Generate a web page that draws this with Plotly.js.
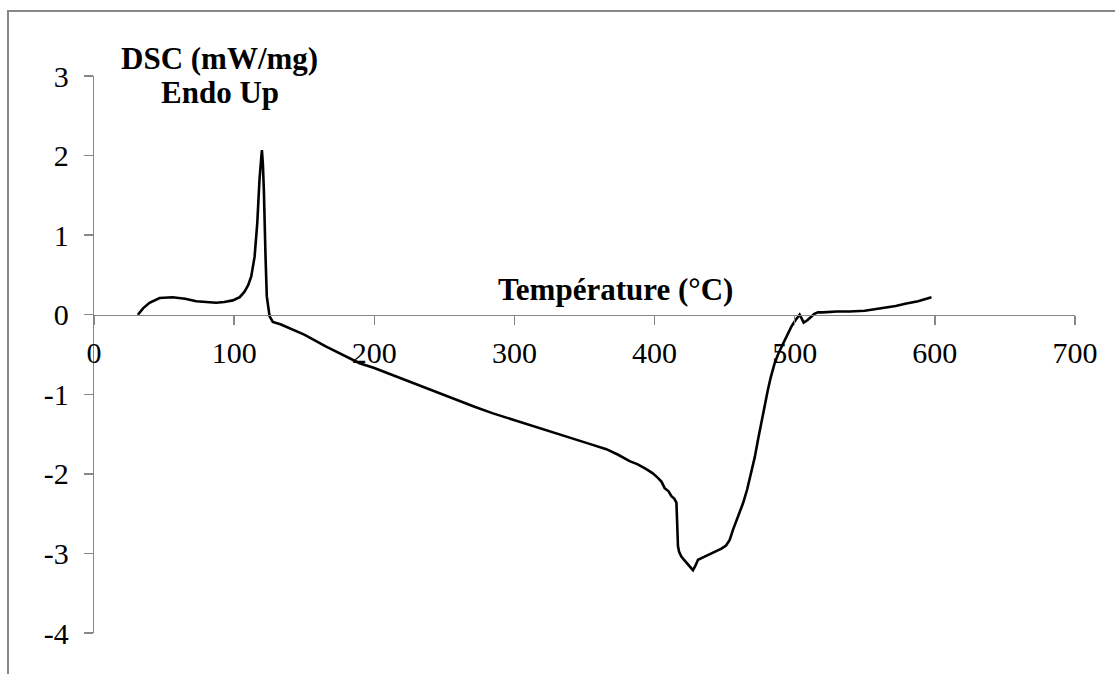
<!DOCTYPE html>
<html>
<head>
<meta charset="utf-8">
<script src="https://cdn.plot.ly/plotly-3.0.1.min.js"></script>
<style>
  html, body { margin:0; padding:0; background:#fff; overflow:hidden; }
  #wrap { position:relative; width:1115px; height:674px; }
  #chart { position:absolute; left:0; top:0; width:1115px; height:674px; }
  #frame { position:absolute; left:7px; top:10px; width:1200px; height:800px;
           border-left:2px solid #878787; border-top:2px solid #878787; pointer-events:none; }
</style>
</head>
<body>
<div id="wrap">
  <div id="chart"></div>
  <div id="frame"></div>
</div>
<script>
const temperature = [31.3, 35, 39.6, 46.8, 56, 65, 73, 80, 87.2, 93, 99, 104, 107.4, 110, 112.2, 114.6, 116.5, 118.1, 119.2, 119.8, 120.5, 121.2, 122.4, 123.3, 125.3, 127.6, 133, 139.5, 150, 165.7, 177, 189.5, 200, 213.3, 225, 237.1, 250, 260.9, 272, 284.7, 297, 308.5, 320, 332.3, 341.8, 353, 365.6, 374, 382.2, 388, 394.1, 398.5, 402.4, 405, 407.2, 410, 412, 414, 415.6, 416.2, 416.7, 417.5, 419.1, 421.5, 423.8, 425.5, 427.4, 429, 431, 434.6, 438, 441.7, 444.5, 447.7, 451, 453.6, 456, 458.5, 460.8, 463.1, 466, 469.1, 471.5, 473.8, 477.4, 480.9, 483, 485.7, 488.5, 491.6, 494.5, 497.6, 500.5, 503.5, 505, 506.4, 509, 511.9, 514, 516.6, 520, 530, 539.2, 550, 563, 572, 579.7, 588, 597.6];
const dsc = [0.0, 0.08, 0.15, 0.21, 0.22, 0.20, 0.17, 0.16, 0.15, 0.16, 0.18, 0.22, 0.29, 0.37, 0.48, 0.73, 1.15, 1.70, 1.98, 2.07, 1.90, 1.57, 0.73, 0.23, -0.02, -0.09, -0.12, -0.17, -0.25, -0.40, -0.50, -0.61, -0.67, -0.76, -0.84, -0.93, -1.01, -1.09, -1.16, -1.24, -1.31, -1.37, -1.44, -1.51, -1.56, -1.62, -1.69, -1.76, -1.84, -1.88, -1.94, -1.99, -2.05, -2.10, -2.18, -2.22, -2.28, -2.31, -2.36, -2.60, -2.91, -2.98, -3.04, -3.09, -3.14, -3.17, -3.21, -3.16, -3.08, -3.05, -3.02, -2.99, -2.97, -2.94, -2.90, -2.83, -2.70, -2.58, -2.49, -2.37, -2.20, -1.99, -1.79, -1.57, -1.24, -0.94, -0.78, -0.61, -0.48, -0.36, -0.25, -0.15, -0.07, 0.0, -0.05, -0.10, -0.07, -0.03, 0.01, 0.03, 0.03, 0.04, 0.04, 0.05, 0.08, 0.11, 0.14, 0.17, 0.22];
const xTicks = [0, 100, 200, 300, 400, 500, 600, 700];
const yTicks = [-4, -3, -2, -1, 0, 1, 2, 3];
const xTitle = "Température (°C)";
const yTitleLine1 = "DSC (mW/mg)";
const yTitleLine2 = "Endo Up";

const serif = "Liberation Serif, Times New Roman, serif";
const axisGray = "#878787";

const trace = {
  x: temperature, y: dsc, type: "scatter", mode: "lines",
  line: { color: "#000", width: 2.6 }, hoverinfo: "skip", cliponaxis: false
};

const layout = {
  width: 1115, height: 674,
  margin: { l: 94, r: 40, t: 76, b: 41, pad: 0 },
  paper_bgcolor: "#fff", plot_bgcolor: "rgba(0,0,0,0)",
  showlegend: false,
  font: { family: serif, color: "#000", size: 30 },
  xaxis: {
    range: [0, 700], tickvals: xTicks, ticktext: xTicks.map(String),
    anchor: "free", position: 4/7,
    showline: true, linecolor: axisGray, linewidth: 1.3,
    ticks: "outside", ticklen: 9, tickwidth: 1.3, tickcolor: axisGray,
    showgrid: false, zeroline: false,
    tickfont: { family: serif, size: 30, color: "#000" },
    ticklabelstandoff: 2
  },
  yaxis: {
    range: [-4, 3], tickvals: yTicks, ticktext: yTicks.map(String),
    showline: true, linecolor: axisGray, linewidth: 1.3,
    ticks: "outside", ticklen: 9, tickwidth: 1.3, tickcolor: axisGray,
    showgrid: false, zeroline: false,
    tickfont: { family: serif, size: 30, color: "#000" },
    ticklabelstandoff: 9
  },
  annotations: [
    { text: "<b>" + xTitle + "</b>", xref: "paper", yref: "paper",
      x: 0.532, y: (633 - 289) / 557, xanchor: "center", yanchor: "middle",
      showarrow: false, font: { family: serif, size: 31, color: "#000" } },
    { text: "<b>" + yTitleLine1 + "</b>", xref: "paper", yref: "paper",
      x: 0.1284, y: (633 - 58) / 557, xanchor: "center", yanchor: "middle",
      showarrow: false, font: { family: serif, size: 31, color: "#000" } },
    { text: "<b>" + yTitleLine2 + "</b>", xref: "paper", yref: "paper",
      x: 0.1284, y: (633 - 93) / 557, xanchor: "center", yanchor: "middle",
      showarrow: false, font: { family: serif, size: 31, color: "#000" } }
  ]
};

Plotly.newPlot("chart", [trace], layout, { staticPlot: true, displayModeBar: false });
</script>
</body>
</html>
